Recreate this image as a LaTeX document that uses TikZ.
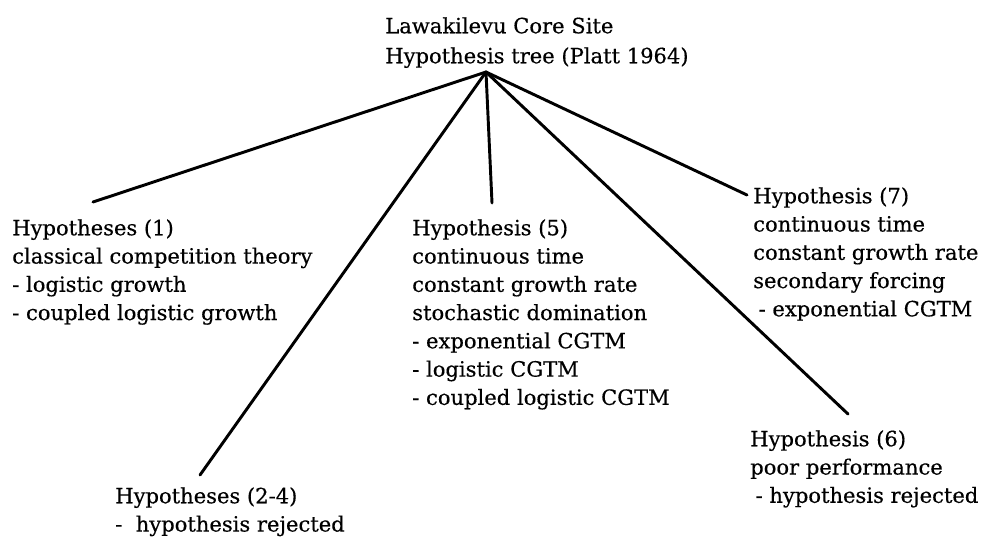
\documentclass[tikz,border=0pt]{standalone}
\usepackage{fontspec}
\setmainfont[FakeBold=0.4]{DejaVu Serif}

\begin{document}
\begin{tikzpicture}[x=0.75pt, y=-0.75pt,
    every node/.style={inner sep=0pt, align=left, anchor=north west,
        font=\fontsize{15.8}{21.2}\selectfont}]
    \useasboundingbox (0,0) rectangle (985,540);
    \coordinate (top) at (486,72);
    \coordinate (E1) at (93,202);
    \coordinate (E24) at (200,475);
    \coordinate (E5) at (492,203);
    \coordinate (E6) at (848,414);
    \coordinate (E7) at (747,195);
    \node (T) at (385,17) [font=\fontsize{15.8}{22.5}\selectfont] {Lawakilevu Core Site\\Hypothesis tree (Platt 1964)};
    \node (H1) at (12,219) {Hypotheses (1)\\classical competition theory\\- logistic growth\\- coupled logistic growth};
    \node (H24) at (115,487) {Hypotheses (2-4)\\-\ \ hypothesis rejected};
    \node (H5) at (412,219) {Hypothesis (5)\\continuous time\\constant growth rate\\stochastic domination\\- exponential CGTM\\- logistic CGTM\\- coupled logistic CGTM};
    \node (H6) at (750,430) {Hypothesis (6)\\poor performance\\\hspace{4pt}- hypothesis rejected};
    \node (H7) at (753,187) {Hypothesis (7)\\continuous time\\constant growth rate\\secondary forcing\\\hspace{4pt}- exponential CGTM};
    \draw [line width=2.2pt, line cap=round] (top) -- (E1);
    \draw [line width=2.2pt, line cap=round] (top) -- (E24);
    \draw [line width=2.2pt, line cap=round] (top) -- (E5);
    \draw [line width=2.2pt, line cap=round] (top) -- (E6);
    \draw [line width=2.2pt, line cap=round] (top) -- (E7);
\end{tikzpicture}
\end{document}
